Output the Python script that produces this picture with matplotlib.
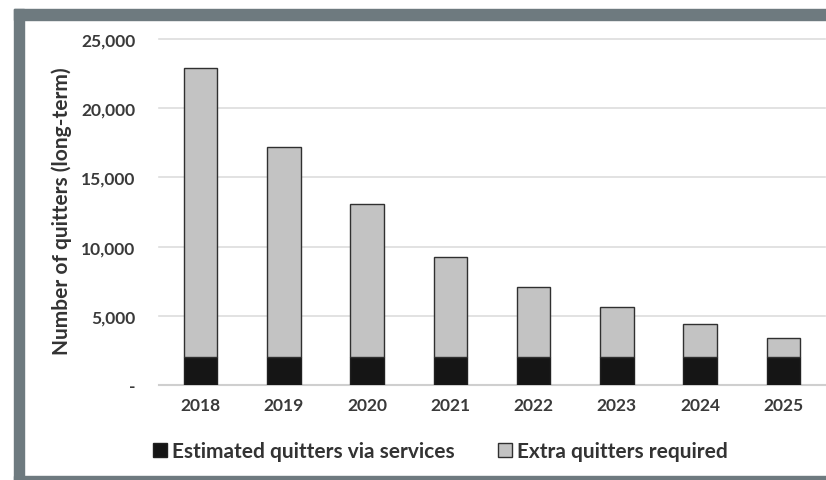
import matplotlib
matplotlib.use("Agg")
import matplotlib.pyplot as plt
from matplotlib.patches import Rectangle
from matplotlib.ticker import FuncFormatter

years = ["2018", "2019", "2020", "2021", "2022", "2023", "2024", "2025"]
via_services = [2000, 2000, 2000, 2000, 2000, 2000, 2000, 2000]
totals = [22900, 17200, 13100, 9250, 7100, 5650, 4400, 3400]
extra_required = [t - s for t, s in zip(totals, via_services)]
yticks = [0, 5000, 10000, 15000, 20000, 25000]

W, H = 826, 481
fig = plt.figure(figsize=(W / 100, H / 100), dpi=100)
fig.patch.set_facecolor("white")

frame_col = "#6e7a7f"
def band(x0, y0, x1, y1):
    fig.patches.append(Rectangle((x0 / W, 1 - y1 / H), (x1 - x0) / W, (y1 - y0) / H,
                                 transform=fig.transFigure, color=frame_col, zorder=0))
band(14, 10, W, 21)
band(14, 10, 24, H)
band(14, 477, W, H)

ax = fig.add_axes([159 / W, (H - 386) / H, (825 - 159) / W, (386 - 40) / H])
ax.set_facecolor("white")
x = range(len(years))
ax.bar(x, via_services, width=0.4, color="#151515", edgecolor="#202020", linewidth=1.0, zorder=3,
       label="Estimated quitters via services")
ax.bar(x, extra_required, width=0.4, bottom=via_services, color="#c3c3c3", edgecolor="#303030",
       linewidth=1.0, zorder=3, label="Extra quitters required")

ax.set_xlim(-0.5, len(years) - 0.5)
ax.set_ylim(0, 25000)
ax.set_yticks(yticks)
ax.yaxis.set_major_formatter(FuncFormatter(lambda v, p: "-" if v == 0 else f"{int(v):,}"))
ax.set_xticks(list(x))
ax.set_xticklabels(years)
ax.grid(axis="y", color="#dddddd", linewidth=1.2, zorder=0)
for ln in ax.get_ygridlines():
    ln.set_clip_on(False)
for s in ["top", "right", "left"]:
    ax.spines[s].set_visible(False)
ax.spines["bottom"].set_color("#cfcfcf")
ax.spines["bottom"].set_linewidth(1.5)
ax.tick_params(axis="both", length=0, labelsize=12.5, labelcolor="#3a3a3a")
ax.tick_params(axis="y", pad=17)
ax.tick_params(axis="x", pad=9)
for lab in ax.get_xticklabels() + ax.get_yticklabels():
    lab.set_fontfamily("Lato")
    lab.set_fontweight("bold")

ax.set_ylabel("Number of quitters (long-term)", fontsize=15, fontweight="bold",
              fontfamily="Lato", color="#333333")
ax.yaxis.set_label_coords((72 - 159) / (825 - 159), (386 - 211) / (386 - 40))

leg = fig.legend(loc="center left", bbox_to_anchor=(153 / W, 1 - 452 / H), ncol=2, frameon=False,
                 prop={"family": "Lato", "weight": "bold", "size": 15}, handlelength=0.65,
                 handleheight=0.65, handletextpad=0.25, columnspacing=2.1, borderpad=0,
                 borderaxespad=0, labelcolor="#333333")

fig.savefig("out.png", dpi=100)
